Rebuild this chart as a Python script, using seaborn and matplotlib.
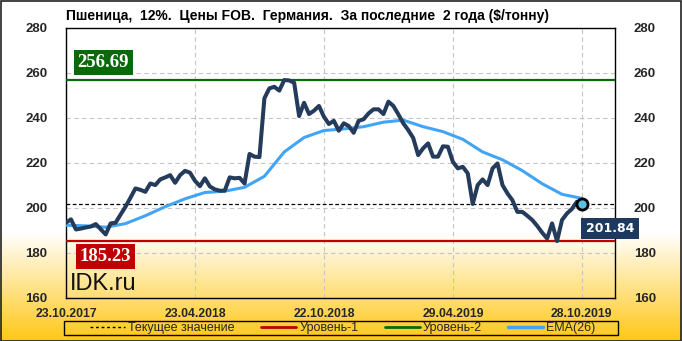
import numpy as np
import matplotlib
matplotlib.use("Agg")
import matplotlib.pyplot as plt
import seaborn as sns
from matplotlib.lines import Line2D
from matplotlib.patches import Rectangle

# ---------------- data ----------------
price = [193.4, 194.9, 190.4, 190.8, 191.3, 191.7, 192.8, 190.5, 188.2, 193.1,
         193.4, 197.0, 200.5, 204.5, 208.6, 208.0, 207.1, 210.8, 210.1, 212.6,
         213.5, 214.5, 211.1, 214.5, 216.4, 215.6, 212.0, 209.6, 213.1, 209.5,
         208.2, 207.6, 207.6, 213.5, 213.1, 213.3, 210.8, 223.9, 222.7, 222.5,
         248.6, 253.0, 253.7, 252.0, 256.69, 256.5, 255.5, 240.7, 246.6, 241.6,
         243.1, 245.2, 240.4, 237.2, 238.6, 234.2, 237.5, 236.3, 233.3, 238.6,
         239.3, 241.9, 243.7, 243.7, 241.6, 247.1, 245.2, 241.5, 237.5, 234.5,
         231.0, 223.4, 226.4, 228.6, 222.7, 222.7, 227.3, 227.1, 220.4, 217.5,
         218.2, 215.3, 201.7, 210.1, 212.6, 210.1, 217.5, 219.7, 210.1, 206.4,
         203.4, 198.2, 198.2, 196.5, 194.6, 192.0, 189.0, 186.4, 193.1, 185.23,
         194.6, 197.5, 199.5, 202.7, 201.84]
ema_idx = [0, 4, 8, 12, 16, 20, 24, 28, 32, 36, 40, 44, 48, 52, 56, 60, 64, 68,
           72, 76, 80, 84, 88, 92, 96, 100, 104]
ema_vals = [192.3, 192.0, 191.4, 193.0, 196.5, 200.5, 204.0, 206.8, 207.4, 209.1,
            214.0, 224.8, 231.2, 234.3, 235.0, 236.0, 238.0, 238.9, 236.0, 233.8,
            230.4, 224.8, 221.3, 216.5, 210.7, 206.0, 204.2]
tick_idx = [0, 26, 52, 78, 104]
tick_labels = ["23.10.2017", "23.04.2018", "22.10.2018", "29.04.2019", "28.10.2019"]
level1 = 185.23
level2 = 256.69
current = 201.84
title = "Пшеница,  12%.  Цены FOB.  Германия.  За последние  2 года ($/тонну)"
legend_labels = ["Текущее значение", "Уровень-1", "Уровень-2", "EMA(26)"]

# ---------------- style ----------------
sns.set_style("white")
plt.rcParams['font.family'] = ['Liberation Sans', 'DejaVu Sans']

W, H = 682, 341
fig = plt.figure(figsize=(W / 100, H / 100), dpi=100)

# background gradient
bg = fig.add_axes([0, 0, 1, 1], zorder=-10)
ys = np.arange(H)
frac = np.clip((ys - 232) / (H - 232), 0, 1)
top = np.array([1.0, 1.0, 1.0])
bot = np.array([1.0, 0.78, 0.08])
cols = top[None, :] * (1 - frac[:, None]) + bot[None, :] * frac[:, None]
img = np.repeat(cols[:, None, :], 4, axis=1)
bg.imshow(img, aspect='auto', extent=[0, 1, 0, 1], origin='upper')
bg.set_axis_off()

L, R, T, B = 66, 615, 27.5, 298
ax = fig.add_axes([L / W, (H - B) / H, (R - L) / W, (B - T) / H])
ax.set_facecolor('none')

idx = list(range(len(price)))
sns.lineplot(x=idx, y=price, ax=ax, color='#243b5c', linewidth=2.9, zorder=5)
sns.lineplot(x=ema_idx, y=ema_vals, ax=ax, color='#42a4f4', linewidth=2.2, zorder=4)

ax.axhline(level2, color='#0a6a0a', linewidth=1.6, zorder=3)
ax.axhline(level1, color='#c00000', linewidth=1.6, zorder=3)
ax.axhline(current, color='black', linewidth=0.9, linestyle=(0, (3, 2)), zorder=3)

ax.plot([idx[-1]], [price[-1]], marker='o', ms=8, mfc='#5bbfe0', mec='black',
        mew=2, zorder=6)

ax.set_xlim(0, (R - L) / 4.96)
ax.set_ylim(160, 280)
ax.set_yticks(range(160, 281, 20))
ax.set_xticks(tick_idx)
ax.set_xticklabels(tick_labels)
ax.grid(True, color='#c4c4c4', linestyle=(0, (4, 3)), linewidth=0.8)
ax.set_axisbelow(True)
for s in ax.spines.values():
    s.set_color('black')
    s.set_linewidth(1.0)
ax.tick_params(axis='y', which='both', left=False, right=False, labelleft=True,
               labelright=True, labelsize=9.5, pad=10)
ax.tick_params(axis='x', bottom=False, labelsize=8.8, pad=3.5)
for lab in ax.get_yticklabels() + ax.get_xticklabels():
    lab.set_fontweight('bold')
ax.set_xlabel('')
ax.set_ylabel('')

# value boxes
ax.text(0.068, 0.871, f"{level2:.2f}", transform=ax.transAxes, ha='center', va='center',
        color='white', fontsize=13.5, fontweight='bold', family='Liberation Serif',
        bbox=dict(boxstyle='square,pad=0.2', fc='#0a6a0a', ec='none'), zorder=7)
ax.text(0.072, 0.153, f"{level1:.2f}", transform=ax.transAxes, ha='center', va='center',
        color='white', fontsize=13.5, fontweight='bold', family='Liberation Serif',
        bbox=dict(boxstyle='square,pad=0.2', fc='#c00000', ec='none'), zorder=7)
ax.text(0.991, 0.257, f"{current:.2f}", transform=ax.transAxes, ha='center', va='center',
        color='white', fontsize=9, fontweight='bold', family='DejaVu Sans',
        bbox=dict(boxstyle='square,pad=0.35', fc='#1d3a5e', ec='none'), zorder=7,
        clip_on=False)

fig.text(70 / W, (H - 290) / H, "IDK.ru", fontsize=17, color='#111111',
         ha='left', va='baseline', zorder=7)

fig.text(66 / W, 1 - 16 / H, title, ha='left', va='center', fontsize=10,
         fontweight='bold', color='black')

# legend: box + centered entries
fig.add_artist(Rectangle((64 / W, (H - 335) / H), 554 / W, 14 / H,
                         transform=fig.transFigure, fill=False, ec='black', lw=1.0))
handles = [Line2D([], [], color='black', linewidth=1, linestyle=(0, (2, 2))),
           Line2D([], [], color='#c00000', linewidth=2),
           Line2D([], [], color='#0a6a0a', linewidth=2),
           Line2D([], [], color='#42a4f4', linewidth=2.5)]
leg = fig.legend(handles, legend_labels, loc='center',
                 bbox_to_anchor=(343 / W, (H - 328) / H),
                 ncol=4, fontsize=9, frameon=False,
                 handlelength=2.8, handletextpad=0.25, borderpad=0.0,
                 borderaxespad=0, columnspacing=2.1)

fig.add_artist(Rectangle((0.5 / W, 0.5 / H), 1 - 1.5 / W, 1 - 1.5 / H,
                         transform=fig.transFigure, fill=False, ec='#222222', lw=1.2))

fig.savefig("out.png", dpi=100)
